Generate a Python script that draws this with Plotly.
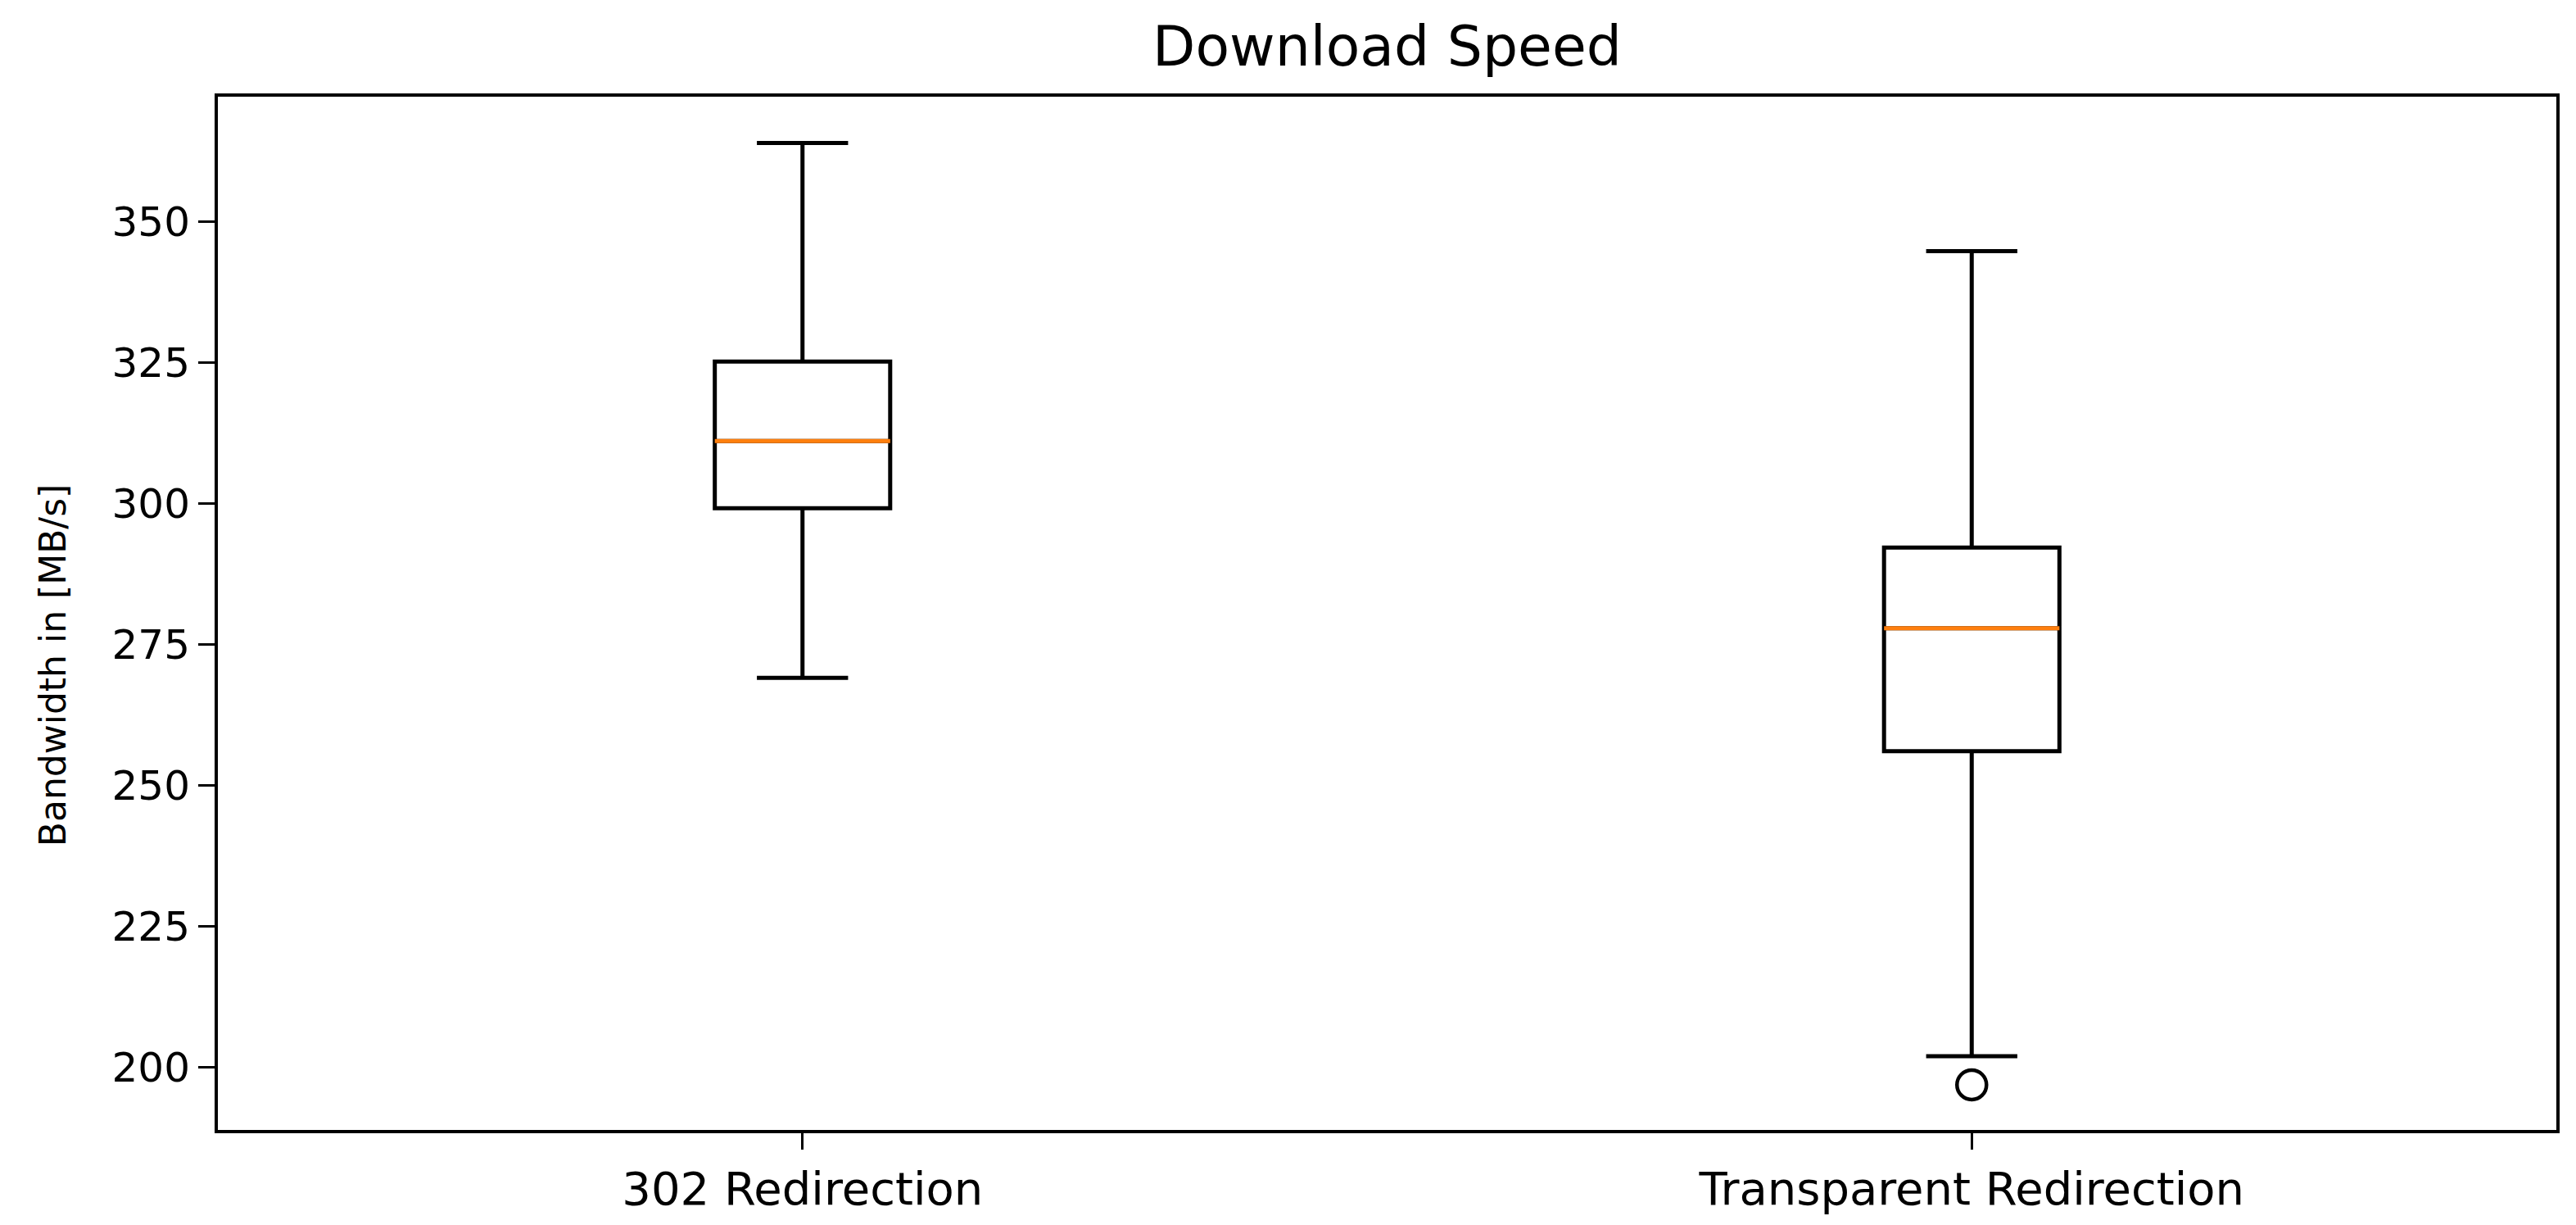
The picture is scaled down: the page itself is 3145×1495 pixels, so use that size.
import plotly.graph_objects as go

# box statistics
categories = ['302 Redirection', 'Transparent Redirection']
lower_whisker = [269.1, 202.0]
q1 = [299.2, 256.1]
median = [311.1, 277.9]
q3 = [325.2, 292.2]
upper_whisker = [364.0, 344.8]

outlier_cat = ['Transparent Redirection']
outlier_val = [196.9]

yticks = [200, 225, 250, 275, 300, 325, 350]

fig = go.Figure()

# boxes + whiskers (black)
fig.add_trace(go.Box(
    x=categories, q1=q1, median=median, q3=q3,
    lowerfence=lower_whisker, upperfence=upper_whisker,
    width=0.15, whiskerwidth=0.52,
    fillcolor='rgba(0,0,0,0)',
    line=dict(color='black', width=5),
    boxpoints=False, name='box'))

# orange median line on top (degenerate box)
fig.add_trace(go.Box(
    x=categories, q1=median, median=median, q3=median,
    lowerfence=median, upperfence=median,
    width=0.15, whiskerwidth=0,
    fillcolor='rgba(0,0,0,0)',
    line=dict(color='#ff7f0e', width=5),
    boxpoints=False, name='median'))

# outlier
fig.add_trace(go.Scatter(
    x=outlier_cat, y=outlier_val, mode='markers',
    marker=dict(symbol='circle-open', size=36, color='black',
                line=dict(width=4.5, color='black')),
    name='outlier'))

fig.update_layout(
    width=3145, height=1495,
    margin=dict(l=258, r=32, t=110, b=124),
    paper_bgcolor='white', plot_bgcolor='white',
    showlegend=False, boxmode='overlay',
    font=dict(family='DejaVu Sans', color='black'),
    title=dict(text='Download Speed', x=0.5, xref='paper', xanchor='center',
               y=0.968, yanchor='middle', font=dict(size=68)),
)

# y label as annotation (sits a bit below the axis centre in the original)
fig.add_annotation(text='Bandwidth in [MB/s]', xref='paper', yref='paper',
                   x=-0.0705, y=0.45, xanchor='center', yanchor='middle',
                   textangle=-90, showarrow=False, font=dict(size=44))

fig.update_xaxes(
    type='category', range=[-0.5, 1.5], automargin=False,
    showline=True, mirror=True, linecolor='black', linewidth=4,
    ticks='outside', ticklen=20, tickwidth=3, tickcolor='black',
    ticklabelstandoff=0,
    tickfont=dict(size=56), showgrid=False, zeroline=False)

fig.update_yaxes(
    range=[188.9, 372.2], tickvals=yticks, automargin=False,
    showline=True, mirror=True, linecolor='black', linewidth=4,
    ticks='outside', ticklen=20, tickwidth=3, tickcolor='black',
    ticklabelstandoff=0,
    tickfont=dict(size=50), showgrid=False, zeroline=False)

fig.write_html('out.html')
